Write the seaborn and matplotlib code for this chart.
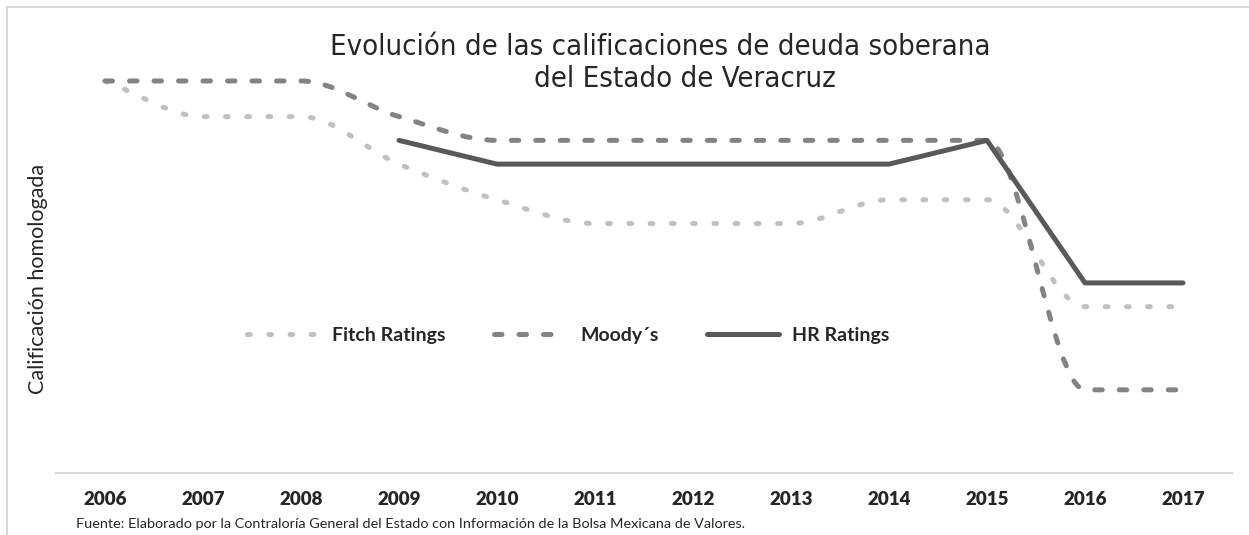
import numpy as np
import pandas as pd
import seaborn as sns
import matplotlib.pyplot as plt
import matplotlib.lines as mlines
from matplotlib.path import Path
from matplotlib.patches import PathPatch, Rectangle

# Data (homologated rating scale)
years = ['2006', '2007', '2008', '2009', '2010', '2011',
         '2012', '2013', '2014', '2015', '2016', '2017']
fitch = [33, 30, 30, 26, 23, 21, 21, 21, 23, 23, 14, 14]
moodys = [33, 33, 33, 30, 28, 28, 28, 28, 28, 28, 7, 7]
hr = [np.nan, np.nan, np.nan, 28, 26, 26, 26, 26, 26, 28, 16, 16]

title_1 = 'Evolución de las calificaciones de deuda soberana'
title_2 = 'del Estado de Veracruz'
y_label = 'Calificación homologada'
source = 'Fuente: Elaborado por la Contraloría General del Estado con Información de la Bolsa Mexicana de Valores.'

c_fitch = '#c0c0c4'
c_moodys = '#838387'
c_hr = '#59595b'
lw = 3.6

sns.set_style('white')
plt.rcParams['font.family'] = ['Lato', 'DejaVu Sans']

fig = plt.figure(figsize=(12.49, 5.35), dpi=100)
ax = fig.add_axes([56 / 1249, 1 - 473 / 535, 1176 / 1249, 433 / 535])

df = pd.DataFrame({'year': years, 'x': range(len(years)), 'hr': hr})


def smooth_path(xs, ys):
    # monotone cubic (Excel-like smoothed line) as bezier path
    xs = np.asarray(xs, float)
    ys = np.asarray(ys, float)
    d = np.diff(ys) / np.diff(xs)
    m = np.zeros_like(ys)
    m[0], m[-1] = d[0], d[-1]
    for i in range(1, len(ys) - 1):
        if d[i - 1] * d[i] > 0:
            m[i] = 2 / (1 / d[i - 1] + 1 / d[i])
    verts = [(xs[0], ys[0])]
    codes = [Path.MOVETO]
    for i in range(len(xs) - 1):
        h = xs[i + 1] - xs[i]
        verts += [(xs[i] + h / 3, ys[i] + m[i] * h / 3),
                  (xs[i + 1] - h / 3, ys[i + 1] - m[i + 1] * h / 3),
                  (xs[i + 1], ys[i + 1])]
        codes += [Path.CURVE4] * 3
    return Path(verts, codes)


fitch_dash = (0.55, 3.7)
moody_dash = (1.5, 3.4)

ax.add_patch(PathPatch(smooth_path(df['x'], fitch), fill=False, edgecolor=c_fitch,
                       lw=lw, linestyle=(0, fitch_dash), capstyle='round', joinstyle='round'))
ax.add_patch(PathPatch(smooth_path(df['x'], moodys), fill=False, edgecolor=c_moodys,
                       lw=lw, linestyle=(0, moody_dash), capstyle='round', joinstyle='round'))
sns.lineplot(data=df, x='x', y='hr', color=c_hr, lw=lw, ax=ax,
             solid_capstyle='round', solid_joinstyle='round')

ax.set_xlim(-0.5, len(years) - 0.5)
ax.set_ylim(0, 433 / 11.88)
ax.set_xlabel('')
ax.set_ylabel('')
ax.set_yticks([])
ax.set_xticks(range(len(years)))
ax.set_xticklabels(years, fontsize=13.5, fontweight='heavy', color='#262626')
ax.set_xticks(np.arange(-0.5, len(years)), minor=True)
ax.tick_params(axis='x', which='major', length=0, pad=13)
ax.tick_params(axis='x', which='minor', length=5, width=1.5, color='#d9d9d9', direction='out')
for s in ['top', 'left', 'right']:
    ax.spines[s].set_visible(False)
ax.spines['bottom'].set_color('#d9d9d9')
ax.spines['bottom'].set_linewidth(1.5)

# legend
h_f = mlines.Line2D([], [], color=c_fitch, lw=lw, linestyle=(0, fitch_dash),
                    dash_capstyle='round', label='Fitch Ratings')
h_m = mlines.Line2D([], [], color=c_moodys, lw=lw, linestyle=(0, moody_dash),
                    dash_capstyle='round', label='Moody´s')
h_h = mlines.Line2D([], [], color=c_hr, lw=lw, solid_capstyle='round', label='HR Ratings')
leg = fig.legend(handles=[h_f, h_m, h_h], loc='center', bbox_to_anchor=(0.455, 1 - 335 / 535),
                 ncol=3, frameon=False, handlelength=3.7, handletextpad=0.7, columnspacing=2.5,
                 prop={'size': 14, 'weight': 'bold'})
for t in leg.get_texts():
    t.set_color('#262626')

# titles and texts
fig.text(660 / 1249, 1 - 47 / 535, title_1, ha='center', va='center', fontsize=21,
         family='DejaVu Sans', fontstretch='condensed', color='#262626')
fig.text(685 / 1249, 1 - 79 / 535, title_2, ha='center', va='center', fontsize=21,
         family='DejaVu Sans', fontstretch='condensed', color='#262626')
fig.text(38 / 1249, 1 - 279 / 535, y_label, rotation=90, ha='center', va='center',
         fontsize=15.5, color='#262626')
fig.text(76 / 1249, 1 - 524 / 535, source, ha='left', va='center', fontsize=10.4, color='#262626')

# chart border
fig.patches.append(Rectangle((7 / 1249, -0.1), 1.2, 1.1 - 7 / 535, transform=fig.transFigure,
                             fill=False, edgecolor='#d9d9d9', lw=1.5, figure=fig))

fig.savefig('out.png', dpi=100, facecolor='white')
